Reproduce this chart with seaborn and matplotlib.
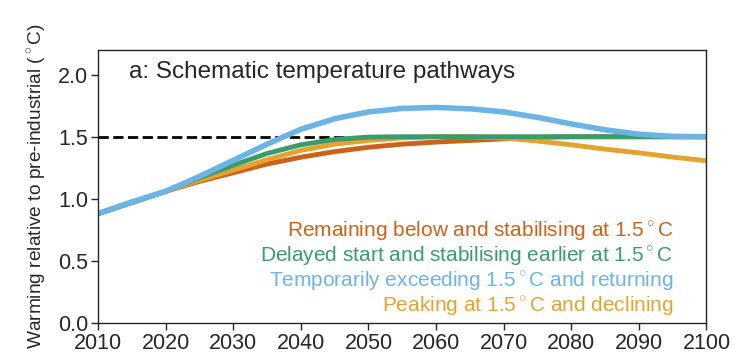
import pandas as pd
import seaborn as sns
import matplotlib.pyplot as plt

# Years sampled every 5 years
years = [2010, 2015, 2020, 2025, 2030, 2035, 2040, 2045, 2050, 2055,
         2060, 2065, 2070, 2075, 2080, 2085, 2090, 2095, 2100]

# Pathways
remaining = [0.88, 0.97, 1.06, 1.14, 1.21, 1.28, 1.335, 1.38, 1.415, 1.44,
             1.457, 1.47, 1.483, 1.495, 1.50, 1.50, 1.50, 1.50, 1.50]
peaking = [0.88, 0.97, 1.06, 1.15, 1.23, 1.315, 1.39, 1.44, 1.47, 1.49,
           1.50, 1.50, 1.49, 1.465, 1.435, 1.40, 1.37, 1.336, 1.306]
delayed = [0.88, 0.97, 1.06, 1.17, 1.27, 1.365, 1.435, 1.478, 1.497, 1.50,
           1.50, 1.50, 1.50, 1.50, 1.50, 1.50, 1.50, 1.50, 1.50]
exceeding = [0.88, 0.975, 1.06, 1.18, 1.31, 1.44, 1.56, 1.645, 1.70, 1.728,
             1.736, 1.725, 1.70, 1.656, 1.603, 1.556, 1.52, 1.503, 1.50]

labels = ['Remaining below and stabilising at 1.5$^\\circ$C',
          'Delayed start and stabilising earlier at 1.5$^\\circ$C',
          'Temporarily exceeding 1.5$^\\circ$C and returning',
          'Peaking at 1.5$^\\circ$C and declining']
colors = ['#cc6119', '#3a9b6b', '#6cb3e6', '#e3a331']

sns.set_style('ticks')
plt.rcParams['font.family'] = ['Liberation Sans', 'DejaVu Sans']
plt.rcParams['mathtext.fontset'] = 'custom'
plt.rcParams['mathtext.rm'] = 'Liberation Sans'

fig = plt.figure(figsize=(7.54, 3.64), dpi=100)
ax = fig.add_axes([0.130, 0.113, 0.807, 0.750])

# 1.5 degree reference line
ax.plot([2010, 2047], [1.5, 1.5], color='black', linestyle='--', linewidth=2, zorder=1)

# Draw the four pathways
series = [(remaining, colors[0], 3.5), (peaking, colors[3], 3.5),
          (delayed, colors[1], 3.5), (exceeding, colors[2], 4)]
for values, col, lw in series:
    df = pd.DataFrame({'year': years, 'warming': values})
    sns.lineplot(data=df, x='year', y='warming', color=col, linewidth=lw, ax=ax, zorder=2)

ax.set_xlim(2010, 2100)
ax.set_ylim(0, 2.2)
ax.set_xticks(range(2010, 2101, 10))
ax.set_yticks([0.0, 0.5, 1.0, 1.5, 2.0])
ax.tick_params(labelsize=15.5, length=5, width=1, direction='out', pad=2)
ax.set_xlabel('')
ax.set_ylabel('Warming relative to pre-industrial ($^\\circ$C)', fontsize=13.8)
ax.yaxis.set_label_coords(-0.082, 0.5)
for s in ax.spines.values():
    s.set_linewidth(1)

ax.text(2014.6, 1.976, 'a: Schematic temperature pathways', fontsize=17.5, va='baseline', ha='left')

text_y = [0.695, 0.493, 0.29, 0.09]
for lab, col, ty in zip(labels, colors, text_y):
    ax.text(2095.1, ty, lab, color=col, fontsize=15, ha='right', va='baseline')

plt.savefig('out.png', dpi=100)
